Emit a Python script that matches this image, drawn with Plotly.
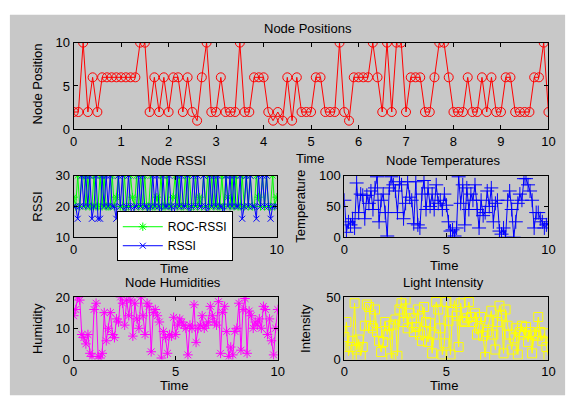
import plotly.graph_objects as go

W, H = 578, 409
time = [round(i * 0.1, 1) for i in range(101)]

node_position = [
    2, 2, 10, 2, 6, 2, 6, 6, 6, 6,
    6, 6, 6, 6, 10, 10, 2, 6, 2, 6,
    2, 6, 6, 2, 6, 2, 1, 6, 10, 2,
    2, 6, 2, 2, 2, 10, 2, 2, 6, 6,
    6, 2, 1, 2, 1, 6, 1, 6, 2, 2,
    2, 6, 6, 2, 2, 2, 10, 2, 1, 6,
    6, 6, 6, 10, 6, 2, 10, 2, 10, 10,
    2, 6, 6, 6, 2, 2, 6, 10, 10, 6,
    2, 2, 2, 6, 2, 2, 6, 2, 6, 2,
    2, 6, 6, 2, 2, 2, 2, 6, 6, 10,
    2,
]

rssi = [
    20, 20, 16, 20, 30, 20, 30, 20, 30, 16,
    20, 30, 16, 16, 30, 20, 30, 20, 30, 20,
    20, 16, 30, 20, 30, 16, 20, 30, 20, 16,
    20, 20, 30, 20, 30, 20, 20, 16, 20, 30,
    20, 30, 20, 16, 30, 20, 20, 30, 20, 16,
    20, 30, 20, 30, 20, 20, 30, 16, 20, 30,
    20, 30, 20, 20, 30, 20, 16, 30, 20, 30,
    20, 30, 20, 20, 16, 30, 20, 30, 20, 30,
    20, 20, 30, 16, 20, 30, 20, 30, 20, 20,
    16, 30, 20, 30, 20, 30, 20, 16, 20, 20,
    20,
]

roc_rssi = [
    23, 20, 30, 20, 30, 30, 20, 30, 20, 20,
    30, 20, 20, 30, 20, 30, 20, 20, 20, 30,
    20, 23, 30, 20, 20, 30, 20, 20, 30, 23,
    20, 30, 20, 30, 20, 30, 20, 20, 30, 20,
    20, 23, 20, 30, 20, 20, 30, 20, 20, 23,
    30, 20, 30, 20, 20, 30, 20, 30, 20, 20,
    30, 20, 23, 20, 30, 20, 30, 20, 30, 20,
    30, 20, 20, 30, 20, 30, 23, 20, 30, 20,
    30, 20, 20, 30, 20, 30, 20, 30, 20, 20,
    30, 23, 20, 30, 20, 30, 20, 20, 30, 20,
    23,
]

temperature = [
    60, 8, 25, 20, 30, 15, 88, 40, 70, 68,
    30, 68, 55, 75, 45, 80, 98, 25, 60, 70,
    40, 2, 80, 98, 85, 75, 40, 90, 85, 30,
    55, 90, 65, 60, 22, 90, 20, 15, 70, 92,
    45, 80, 50, 70, 45, 85, 55, 60, 45, 70,
    52, 25, 10, 12, 2, 15, 98, 55, 85, 20,
    80, 45, 70, 60, 85, 45, 15, 60, 35, 40,
    75, 50, 80, 25, 55, 60, 10, 5, 15, 0,
    60, 75, 45, 0, 25, 55, 70, 60, 95, 95,
    85, 75, 60, 15, 40, 40, 30, 25, 15, 20,
    22,
]

humidity = [
    14, 16, 20, 19, 8, 7, 5, 8, 2, 1,
    16, 18, 1, 0.5, 2, 15, 6, 10, 15, 8,
    7, 13, 12, 20, 18, 11, 19, 14, 19, 7.5,
    18, 13, 10, 20, 14, 8, 18, 17, 2.5, 15,
    16, 14, 12, 0.5, 9, 7, 2, 8, 7.5, 13.5,
    8, 11, 13, 12, 11, 10, 1.5, 11, 10, 17.5,
    5.5, 10, 11, 14, 10, 11, 12, 17, 14, 12,
    11, 18.5, 2, 15, 17, 9, 1, 4, 1.5, 9,
    10, 18, 3, 16, 19.5, 2, 15.5, 14, 10, 12,
    11, 13, 10, 17, 16, 8, 13, 6, 1.5, 10,
    16,
]

light = [
    18, 30, 3, 10, 15, 45, 8, 16, 3, 10,
    27, 44, 42, 27, 25, 40, 22, 15, 6, 14,
    30, 20, 27, 1, 28, 32, 3, 40, 45, 30,
    48, 25, 37, 33, 22, 26, 40, 20, 15, 42,
    30, 14, 29, 5, 20, 46, 40, 25, 4, 13,
    46, 31, 4, 38, 47, 35, 10, 45, 31, 30,
    33, 46, 34, 30, 37, 20, 25, 34, 19, 2,
    22, 31, 39, 20, 8, 30, 43, 35, 5, 40,
    27, 20, 8, 17, 25, 4, 22, 27, 20, 26,
    14, 22, 5, 20, 19, 34, 22, 15, 21, 10,
    3,
]

def px(x):
    return x / W

def py(y):
    return 1 - y / H

FONT = "Liberation Sans, Arial, Helvetica, sans-serif"
FS = 13

fig = go.Figure()

fig.add_trace(go.Scatter(x=time, y=node_position, mode="lines+markers",
                         line=dict(color="#ff0000", width=1),
                         marker=dict(symbol="circle-open", size=9, color="#ff0000", line=dict(width=1)),
                         showlegend=False, xaxis="x", yaxis="y"))

fig.add_trace(go.Scatter(x=time, y=roc_rssi, mode="lines+markers", name="ROC-RSSI",
                         line=dict(color="#00ff00", width=1),
                         marker=dict(symbol="asterisk-open", size=7, color="#00ff00", line=dict(width=1, color="#00ff00")),
                         xaxis="x2", yaxis="y2"))
fig.add_trace(go.Scatter(x=time, y=rssi, mode="lines+markers", name="RSSI",
                         line=dict(color="#0000ff", width=1),
                         marker=dict(symbol="x-thin-open", size=6, color="#0000ff", line=dict(width=1, color="#0000ff")),
                         xaxis="x2", yaxis="y2"))

fig.add_trace(go.Scatter(x=time, y=temperature, mode="lines+markers",
                         line=dict(color="#0000ff", width=1),
                         marker=dict(symbol="cross-thin-open", size=10, color="#0000ff", line=dict(width=1, color="#0000ff")),
                         showlegend=False, xaxis="x3", yaxis="y3"))

fig.add_trace(go.Scatter(x=time, y=humidity, mode="lines+markers",
                         line=dict(color="#ff00ff", width=1),
                         marker=dict(symbol="asterisk-open", size=8, color="#ff00ff", line=dict(width=1, color="#ff00ff")),
                         showlegend=False, xaxis="x4", yaxis="y4"))

fig.add_trace(go.Scatter(x=time, y=light, mode="lines+markers",
                         line=dict(color="#ffff00", width=1),
                         marker=dict(symbol="square-open", size=9, color="#ffff00", line=dict(width=1, color="#ffff00")),
                         showlegend=False, xaxis="x5", yaxis="y5"))

def ax(domain, rng, tickvals, anchor, ticktext=None):
    return dict(domain=domain, range=rng, tickvals=tickvals,
                ticktext=ticktext if ticktext is not None else [str(v) for v in tickvals],
                anchor=anchor, ticks="inside", ticklen=4, tickcolor="black", tickwidth=1,
                showline=True, linecolor="black", linewidth=1, mirror="ticks",
                showgrid=False, zeroline=False,
                tickfont=dict(family=FONT, size=FS, color="black"))

# axes pixel boxes: (left, right, top, bottom)
top = (71, 555, 37, 127)
mid_l = (71, 278, 175, 239)
mid_r = (347, 555, 175, 239)
bot_l = (71, 279, 301, 366)
bot_r = (347, 555, 301, 366)

def xd(b):
    return [px(b[0]), px(b[1])]

def yd(b):
    return [py(b[3]), py(b[2])]

fig.update_layout(
    width=W, height=H, autosize=False,
    margin=dict(l=0, r=0, t=0, b=0),
    paper_bgcolor="white", plot_bgcolor="white",
    font=dict(family=FONT, size=FS, color="black"),
    xaxis=ax(xd(top), [0, 10], list(range(11)), "y"),
    yaxis=ax(yd(top), [0, 10], [0, 5, 10], "x"),
    # the "5" label of this axis sits under the legend in the original
    xaxis2=ax(xd(mid_l), [0, 10], [0, 5, 10], "y2", ["0", "", "10"]),
    yaxis2=ax(yd(mid_l), [10, 30], [10, 20, 30], "x2"),
    xaxis3=ax(xd(mid_r), [0, 10], [0, 5, 10], "y3"),
    yaxis3=ax(yd(mid_r), [0, 100], [0, 50, 100], "x3"),
    xaxis4=ax(xd(bot_l), [0, 10], [0, 5, 10], "y4"),
    yaxis4=ax(yd(bot_l), [0, 20], [0, 10, 20], "x4"),
    xaxis5=ax(xd(bot_r), [0, 10], [0, 5, 10], "y5"),
    yaxis5=ax(yd(bot_r), [0, 50], [0, 50], "x5"),
    legend=dict(x=px(115), y=py(212), xanchor="left", yanchor="top",
                bgcolor="white", bordercolor="black", borderwidth=1,
                font=dict(family=FONT, size=12, color="black"),
                tracegroupgap=0, itemwidth=40),
    shapes=[dict(type="rect", xref="paper", yref="paper",
                 x0=px(6), x1=px(572), y0=py(403), y1=py(8),
                 fillcolor="#c8c8c8", line=dict(width=0), layer="below")],
)

def label(text, x, y, angle=0):
    fig.add_annotation(text=text, x=px(x), y=py(y), xref="paper", yref="paper",
                       showarrow=False, textangle=angle, xanchor="center", yanchor="middle",
                       font=dict(family=FONT, size=FS, color="black"))

label("Node Positions", 310, 22)
label("Time", 312, 157)
label("Node Position", 34, 80, -90)
label("Node RSSI", 173, 159)
label("Time", 173, 271)
label("RSSI", 34, 207, -90)
label("Node Temperatures", 448, 159)
label("Time", 449, 268)
label("Temperature", 302, 207, -90)
label("Node Humidities", 172, 286)
label("Time", 173, 393)
label("Humidity", 34, 334, -90)
label("Light Intensity", 448, 286)
label("Time", 449, 393)
label("Intensity", 308, 334, -90)

fig.write_html("out.html", config={"responsive": False, "displayModeBar": False},
               post_script="document.body.style.margin='0';document.body.style.overflow='hidden';")
